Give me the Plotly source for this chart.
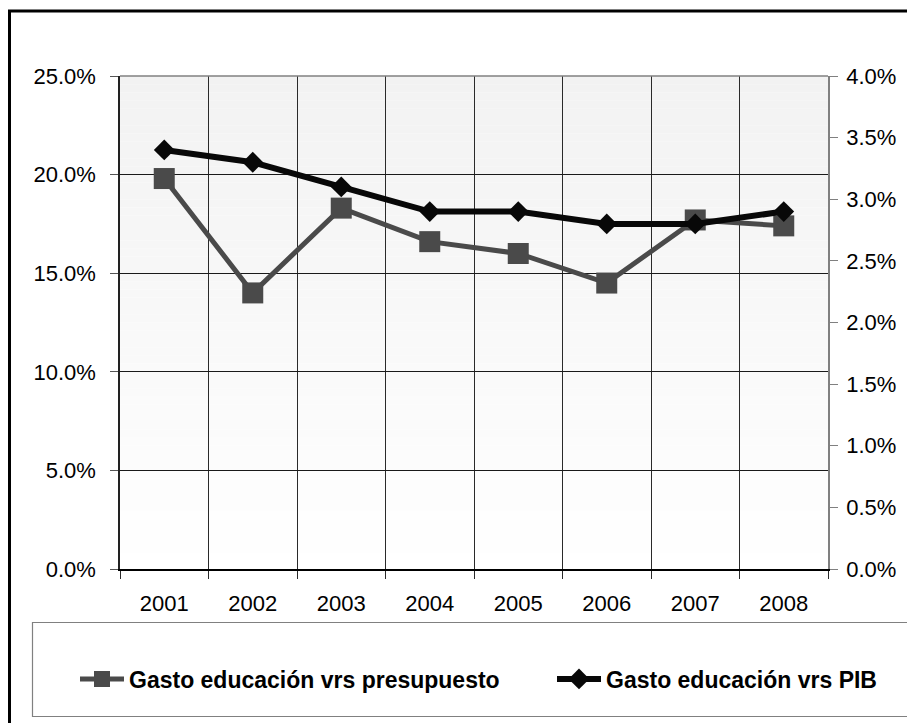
import plotly.graph_objects as go

years = ["2001", "2002", "2003", "2004", "2005", "2006", "2007", "2008"]
presupuesto = [0.198, 0.140, 0.183, 0.166, 0.160, 0.145, 0.177, 0.174]
pib = [0.034, 0.033, 0.031, 0.029, 0.029, 0.028, 0.028, 0.029]
left_ticks = [0, 0.05, 0.10, 0.15, 0.20, 0.25]
right_ticks = [0, 0.005, 0.01, 0.015, 0.02, 0.025, 0.03, 0.035, 0.04]

OFF = 8  # page body margin
W, H = 915 - OFF, 723 - OFF
# plot area in page pixels
L, R, T, B = 120, 828, 76, 569
Lf, Rf, Tf, Bf = L - OFF, R - OFF, T - OFF, B - OFF
PW, PH = Rf - Lf, Bf - Tf

def px(x):  # page x -> paper
    return (x - OFF - Lf) / PW

def py(y):  # page y -> paper
    return (Bf - (y - OFF)) / PH

FONT = "Liberation Sans, Arial, sans-serif"

fig = go.Figure()
fig.add_trace(go.Scatter(
    x=years, y=presupuesto, name="Gasto educación vrs presupuesto",
    mode="lines+markers", yaxis="y", legend="legend",
    line=dict(color="#4a4a4a", width=5),
    marker=dict(symbol="square", size=21, color="#4a4a4a"),
))
fig.add_trace(go.Scatter(
    x=years, y=pib, name="Gasto educación vrs PIB",
    mode="lines+markers", yaxis="y2", legend="legend2",
    line=dict(color="#080808", width=6),
    marker=dict(symbol="diamond", size=16, color="#080808"),
))

shapes = []
N = 60
for i in range(N):
    c = int(round(242 + (255 - 242) * (1 - (i + 0.5) / N)))
    shapes.append(dict(type="rect", xref="x domain", yref="y domain",
                       x0=0, x1=1, y0=i / N, y1=(i + 1) / N, layer="below",
                       line=dict(width=0), fillcolor=f"rgb({c},{c},{c})"))
shapes.append(dict(type="line", xref="paper", yref="paper", x0=0, x1=1, y0=1, y1=1,
                   line=dict(color="#808080", width=1.5), layer="above"))
# outer black border (top & left)
shapes.append(dict(type="line", xref="paper", yref="paper", x0=px(7), x1=px(930),
                   y0=py(11), y1=py(11), line=dict(color="black", width=3)))
shapes.append(dict(type="line", xref="paper", yref="paper", x0=px(9.5), x1=px(9.5),
                   y0=py(10), y1=py(740), line=dict(color="black", width=3)))
# legend box
shapes.append(dict(type="rect", xref="paper", yref="paper", x0=px(32.5), x1=px(930),
                   y0=py(622.5), y1=py(716.5), line=dict(color="#808080", width=1.2),
                   fillcolor="rgba(0,0,0,0)"))

legend_font = dict(family=FONT, size=23, color="black", weight="bold")

fig.update_layout(
    width=W, height=H,
    margin=dict(l=Lf, r=W - Rf, t=Tf, b=H - Bf, autoexpand=False),
    paper_bgcolor="white", plot_bgcolor="white",
    font=dict(family=FONT, size=22, color="black"),
    shapes=shapes,
    showlegend=True,
    legend=dict(orientation="h", x=px(75), xanchor="left", y=py(679), yanchor="middle",
                font=legend_font, bgcolor="rgba(0,0,0,0)", itemwidth=44),
    legend2=dict(orientation="h", x=px(552), xanchor="left", y=py(679), yanchor="middle",
                 font=legend_font, bgcolor="rgba(0,0,0,0)", itemwidth=44),
    xaxis=dict(type="category", range=[-0.5, 7.5], tickson="boundaries",
               showgrid=True, gridcolor="#2a2a2a", gridwidth=1,
               ticks="outside", ticklen=8, tickcolor="#2a2a2a",
               showline=True, linecolor="black", linewidth=1.5,
               ticklabelstandoff=14, tickfont=dict(size=22)),
    yaxis=dict(range=[0, 0.25], tickvals=left_ticks, tickformat=".1%",
               showgrid=True, gridcolor="#1a1a1a", gridwidth=1,
               ticks="outside", ticklen=8, tickcolor="#555",
               showline=True, linecolor="#222", linewidth=1.5,
               zeroline=False, ticklabelstandoff=10, tickfont=dict(size=22)),
    yaxis2=dict(range=[0, 0.04], tickvals=right_ticks, tickformat=".1%",
                overlaying="y", side="right", showgrid=False,
                ticks="outside", ticklen=8, tickcolor="#808080",
                showline=True, linecolor="#808080", linewidth=1.5,
                zeroline=False, ticklabelstandoff=4, tickfont=dict(size=22)),
)

fig.write_html("out.html")
